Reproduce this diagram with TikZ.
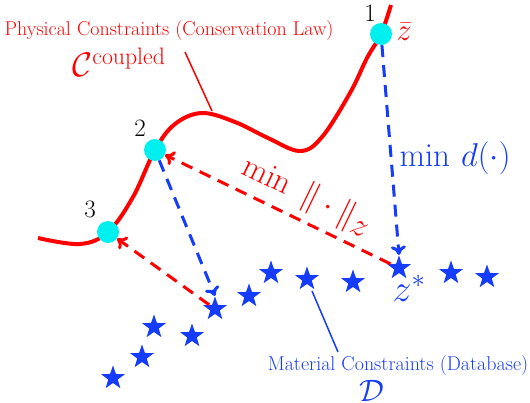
\documentclass[tikz,border=0pt]{standalone}
\usepackage{amsmath}
\DeclareFontShape{OML}{cmm}{m}{it}{<-6>cmmi5 <6-7>cmmi6 <7-8>cmmi7 <8-9>cmmi8 <9-10>cmmi9 <10-12>cmmi10 <12->cmmi12}{}
\DeclareFontShape{OMS}{cmsy}{m}{n}{<-6>cmsy5 <6-7>cmsy6 <7-8>cmsy7 <8-9>cmsy8 <9-10>cmsy9 <10->cmsy10}{}
\DeclareFontShape{OT1}{cmr}{m}{n}{<-6>cmr5 <6-7>cmr6 <7-8>cmr7 <8-9>cmr8 <9-10>cmr9 <10-12>cmr10 <12-17>cmr12 <17->cmr17}{}
\DeclareFontShape{OMX}{cmex}{m}{n}{<->cmex10}{}
\usetikzlibrary{shapes.geometric,arrows.meta}
\definecolor{myblue}{RGB}{20,60,250}
\definecolor{myred}{RGB}{255,0,0}
\definecolor{mycyan}{RGB}{0,240,240}
\tikzset{
  pt/.style={circle,fill=mycyan,inner sep=0pt,minimum size=22pt},
  dbstar/.style={star,star points=5,star point ratio=2.5,fill=myblue,inner sep=0pt,minimum size=25pt},
  dashblue/.style={myblue,line width=3pt,dash pattern=on 12pt off 8pt,-{To[length=9pt,width=15pt]}},
  dashred/.style={myred,line width=3pt,dash pattern=on 12pt off 8pt,-{To[length=9pt,width=15pt]}},
  smalltxt/.style={font=\fontsize{20}{22}\selectfont},
  bigtxt/.style={font=\fontsize{31}{36}\selectfont},
  numtxt/.style={font=\fontsize{25}{28}\selectfont},
}
\begin{document}
\begin{tikzpicture}[x=1pt,y=-1pt]
\useasboundingbox (0,0) rectangle (530,402);
% red curve
\draw[myred,line width=4pt] plot[smooth,tension=0.6] coordinates {(38,238) (80,244) (108,232) (133,197) (155,150) (175,124) (202,113) (235,122) (268,138) (300,151) (322,137) (350,93) (367,58) (381,34) (391,5)};
% points
\node[pt] (p1) at (381,34) {};
\node[pt] (p2) at (155,150) {};
\node[pt] (p3) at (108,232) {};
% stars
\node[dbstar] (s1) at (113,378) {};
\node[dbstar] (s2) at (142,357) {};
\node[dbstar] (s3) at (154,327) {};
\node[dbstar] (s4) at (192,336) {};
\node[dbstar] (s5) at (215,309) {};
\node[dbstar] (s6) at (249,296) {};
\node[dbstar] (s7) at (271,273) {};
\node[dbstar] (s8) at (307,279) {};
\node[dbstar] (s9) at (353,282) {};
\node[dbstar] (s10) at (399,268) {};
\node[dbstar] (s11) at (451,273) {};
\node[dbstar] (s12) at (487,277) {};
% labels
\node[numtxt] (n1) at (370,13) {1};
\node[numtxt] (n2) at (140,128) {2};
\node[numtxt] (n3) at (90,209) {3};
\node[bigtxt,myred] (zbar) at (404,32) {$\bar{z}$};
\node[font=\fontsize{38}{42}\selectfont,myblue] (zstar) at (409,288) {$z^{*}$};
\node[font=\fontsize{33}{38}\selectfont,myblue] (mind) at (455,158) {$\min\, d(\cdot)$};
\node[smalltxt,myred,anchor=west] (phys) at (1,31) {Physical Constraints (Conservation Law)};
\node[font=\fontsize{34}{38}\selectfont,myred] (cc) at (119,62) {$\mathcal{C}^{\mathrm{coupled}}$};
\node[smalltxt,myblue] (mat) at (398,366) {Material Constraints (Database)};
\node[bigtxt,myblue] (dd) at (372,391) {$\mathcal{D}$};
% annotation lines
\coordinate (pa) at (185,52);
\coordinate (pb) at (212,111);
\draw[myred,line width=1.5pt] (pa) -- (pb);
\coordinate (ma) at (312,291);
\coordinate (mb) at (338,352);
\draw[myblue,line width=1.5pt] (ma) -- (mb);
% arrows
\draw[dashblue] (p1) -- (s10.north);
\draw[dashblue] (p2) -- (s5.north);
\draw[dashred] (s10) -- node[pos=0.42,sloped,above=3pt,font=\fontsize{33}{36}\selectfont] {$\min\ \|\cdot\|_{\textstyle z}$} (p2);
\draw[dashred] (s5) -- (p3);
\end{tikzpicture}
\end{document}
